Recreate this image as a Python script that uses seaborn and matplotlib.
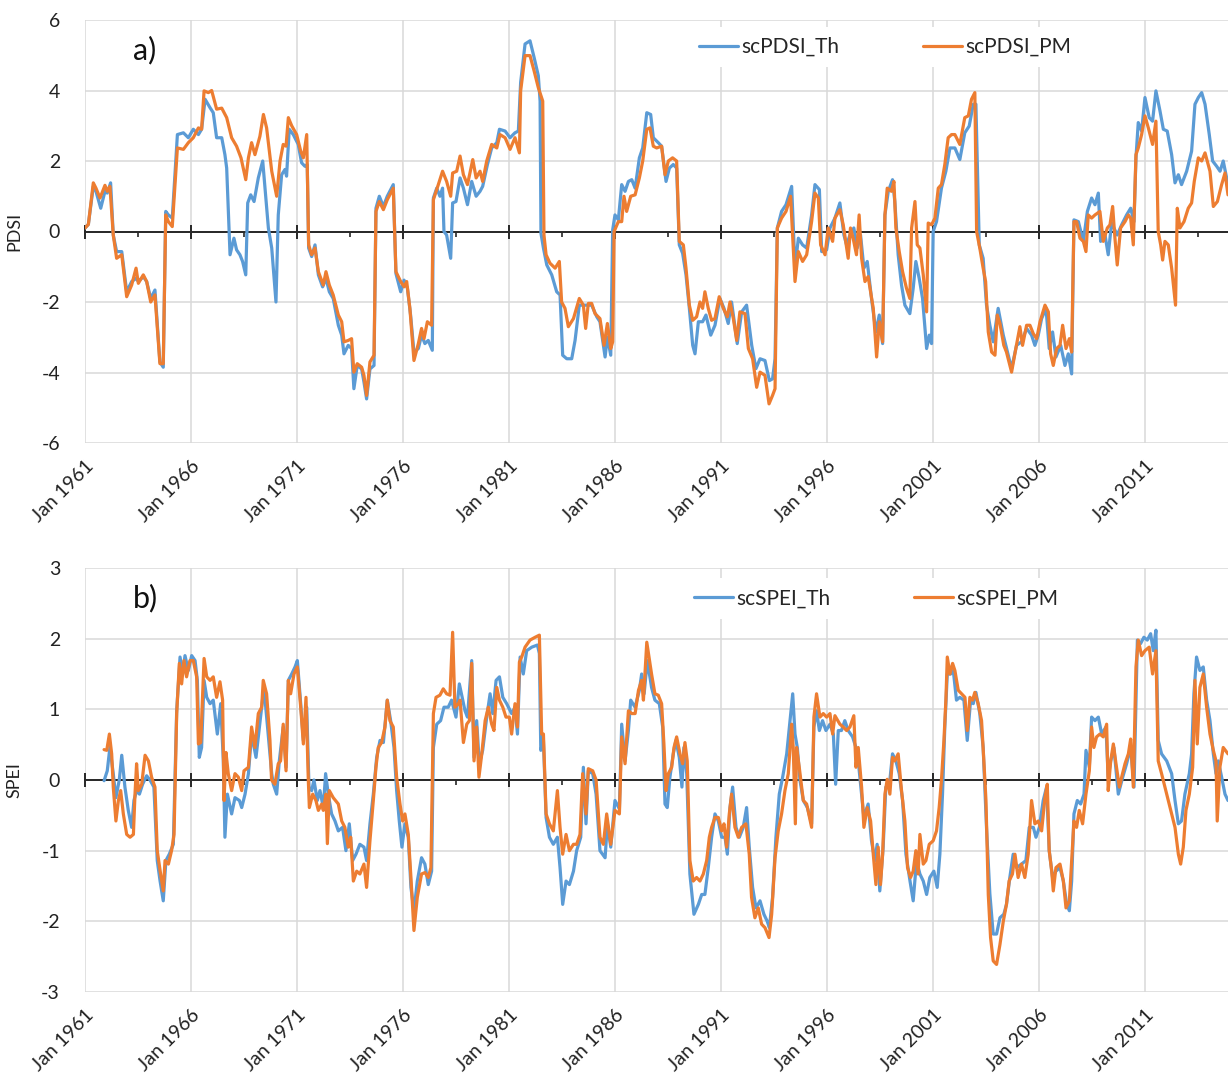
import numpy as np
import pandas as pd
import seaborn as sns
import matplotlib.pyplot as plt

# (months since Jan 1961, index value)
pdsi_th = [
    (0, 0.1), (1.9, 0.2), (4.7, 1.28), (6.2, 1.14), (8.9, 0.66), (11.3, 1.14), (12.6, 1.09), (14.5, 1.38),
    (16, -0.1), (17.9, -0.57), (20.8, -0.57), (23.6, -1.71), (26.4, -1.42), (28.9, -1.33), (30.2, -1.42),
    (33, -1.28), (34.9, -1.42), (37.2, -1.9), (39.6, -1.66), (42.4, -3.7), (44.3, -3.85), (45.7, 0.57),
    (47.2, 0.47), (49.4, 0.38), (52.3, 2.75), (55.7, 2.8), (58.5, 2.66), (61.3, 2.9), (64.2, 2.75), (66, 2.9),
    (68, 3.75), (70.8, 3.51), (72.6, 3.37), (74.5, 2.66), (77.4, 2.66), (79.2, 2.18), (80.2, 1.8),
    (82.1, -0.66), (84.3, -0.19), (85.8, -0.52), (87.7, -0.66), (89.2, -0.85), (91, -1.23), (92.1, 0.81),
    (93.8, 1.04), (95.7, 0.85), (98.1, 1.52), (100.6, 2.0), (101.9, 1.23), (103.8, 0.1), (105.7, -0.47),
    (108.1, -2.0), (109.4, 0.47), (111.3, 1.61), (113.2, 1.76), (114.1, 1.57), (115.6, 2.9), (117.9, 2.75),
    (120.7, 2.47), (122.6, 1.95), (124.5, 1.85), (125.8, 1.9), (126.6, -0.47), (128.3, -0.71), (130.2, -0.38),
    (132.1, -1.23), (134.5, -1.57), (136.4, -1.33), (138.3, -1.71), (140.5, -1.9), (143.4, -2.66),
    (145.3, -2.94), (146.6, -3.47), (149, -3.23), (150.9, -3.32), (152.2, -4.46), (154.1, -3.8), (156.6, -3.9),
    (157.9, -4.27), (159.4, -4.75), (161.3, -3.9), (163.6, -3.8), (164.7, 0.66), (166.6, 1.0), (168.9, 0.71),
    (171.1, 1.0), (174.5, 1.33), (176, -1.19), (178.7, -1.71), (180.6, -1.38), (182.5, -1.61), (184.3, -2.37),
    (186.2, -3.42), (188.7, -3.32), (190.5, -2.94), (192.4, -3.18), (194.3, -3.09), (196.6, -3.37),
    (197.2, 0.95), (199.1, 1.23), (200.9, 1.0), (202.4, 1.23), (203.2, 0.0), (204.7, -0.1), (207, -0.76),
    (208.1, 0.81), (210, 0.85), (212.3, 1.52), (214.2, 1.23), (216.5, 0.76), (218.9, 1.42), (221.4, 1.0),
    (223.6, 1.14), (225.1, 1.28), (227.8, 1.9), (230.2, 2.37), (233.1, 2.52), (234.6, 2.9), (237.8, 2.85),
    (240.6, 2.66), (243.4, 2.8), (245.3, 2.85), (246.6, 4.23), (249.1, 5.32), (251.9, 5.41), (254.2, 4.94),
    (256.6, 4.42), (257.6, 3.7), (258.1, -0.05), (259.5, -0.47), (261.4, -0.95), (264.2, -1.23), (267, -1.71),
    (268.9, -1.8), (270.4, -3.51), (272.7, -3.61), (275.5, -3.61), (277.4, -3.09), (279.8, -2.09),
    (282.1, -2.09), (284.9, -2.09), (286.8, -2.09), (289.7, -2.42), (291.5, -2.56), (294.4, -3.56),
    (295.7, -2.99), (297.6, -3.51), (298.7, 0.05), (300, 0.47), (301.9, 0.33), (303.8, 1.33), (305.7, 1.14),
    (307.6, 1.42), (309.5, 1.47), (311.4, 1.23), (313.8, 2.09), (315.7, 2.37), (318, 3.37), (320.2, 3.32),
    (321.7, 2.66), (324.5, 2.52), (326.4, 2.42), (328.9, 1.42), (330.8, 1.8), (333, 1.9), (334.9, 1.8),
    (336.4, -0.38), (338.3, -0.62), (340.2, -1.23), (342.1, -2.18), (344, -3.23), (345.3, -3.47),
    (347.2, -2.56), (349.6, -2.56), (351.5, -2.37), (354.2, -2.94), (356.6, -2.66), (359.4, -1.9),
    (361.7, -2.18), (364.1, -2.61), (366, -2.0), (369.2, -3.18), (371.7, -2.28), (374.5, -2.09),
    (377.4, -3.23), (379.8, -3.89), (382.1, -3.61), (384.9, -3.66), (387.4, -4.23), (389.2, -4.18),
    (390.6, -3.61), (391.9, 0.1), (394.3, 0.57), (396.8, 0.76), (400, 1.28), (401.9, -1.04), (403.8, -0.19),
    (406.2, -0.38), (408.5, -0.47), (411.3, 0.47), (413.2, 1.33), (415.7, 1.19), (417, -0.57), (419.8, -0.52),
    (421.7, 0.1), (424.5, 0.38), (427.3, 0.81), (429.6, -0.1), (431.1, -0.38), (433, -0.1), (435.2, 0.1),
    (437.1, -0.47), (439, -0.1), (440.9, -1.04), (442.8, -0.85), (445.2, -1.9), (447.7, -2.85), (449.6, -2.37),
    (451.5, -3.18), (452.8, 0.47), (454.7, 1.14), (457.1, 1.47), (458.4, 0.85), (460.3, -0.66), (462.2, -1.52),
    (464.1, -2.09), (466.9, -2.33), (468.8, -1.61), (470.3, -0.85), (472.2, -1.33), (474.1, -1.9),
    (476.4, -3.32), (477.9, -2.94), (479.2, -3.18), (480.1, 0.0), (482, 0.28), (484.8, 1.23), (487.3, 1.71),
    (489.6, 2.37), (492.4, 2.37), (495.2, 2.04), (498, 2.8), (500.5, 2.99), (502.8, 3.61), (504.3, 3.61),
    (506.2, -0.38), (508.4, -0.76), (510.3, -2.09), (512.2, -2.66), (514.1, -3.13), (516.9, -2.18),
    (519.8, -2.94), (522.6, -3.51), (524.5, -3.89), (527.3, -3.23), (530.1, -3.13), (533, -2.75),
    (535.8, -2.94), (537.7, -3.23), (539.6, -2.94), (541.5, -2.47), (544, -2.18), (545.8, -3.32),
    (547.7, -2.85), (549.6, -3.56), (552.3, -3.23), (554.7, -3.8), (556.6, -3.47), (558.5, -4.04),
    (559.8, 0.33), (562.3, 0.28), (565.1, -0.28), (567.4, 0.57), (569.8, 0.95), (571.7, 0.76), (573.6, 1.09),
    (574.9, -0.28), (577.4, -0.1), (579.2, -0.66), (581.1, 0.24), (584.3, -0.1), (586.8, 0.19), (589.6, 0.47),
    (591.9, 0.66), (593.8, 0.28), (594.9, 2.09), (596.2, 3.09), (598.1, 2.85), (600, 3.8), (602.4, 3.23),
    (604.3, 3.13), (606.2, 3.99), (608.5, 3.42), (610.4, 2.9), (612.6, 2.85), (615.1, 2.18), (617, 1.38),
    (618.9, 1.61), (620.7, 1.33), (623.6, 1.71), (626.4, 2.28), (628.3, 3.61), (630.2, 3.8), (632.1, 3.94),
    (634, 3.61), (636.4, 2.75), (638.3, 2.0), (640.6, 1.85), (642.5, 1.71), (644.3, 2.0), (647, 1.33),
]

pdsi_pm = [
    (0, 0.1), (1.9, 0.2), (4.7, 1.38), (6.2, 1.23), (8.5, 0.95), (11.3, 1.31), (12.6, 1.14), (14.1, 1.28),
    (16, -0.1), (17.9, -0.76), (20.8, -0.66), (23.6, -1.85), (26.4, -1.52), (28.9, -1.04), (30.2, -1.47),
    (33, -1.23), (34.9, -1.42), (37.2, -2.0), (39.6, -1.8), (42.4, -3.75), (44.3, -3.75), (45.7, 0.47),
    (47.2, 0.28), (49.4, 0.14), (52.3, 2.37), (55.7, 2.33), (58.5, 2.52), (61.3, 2.66), (64.2, 2.94), (66, 2.9),
    (67.4, 3.99), (69.8, 3.94), (71.7, 4.0), (74.5, 3.47), (77.4, 3.5), (80.2, 3.23), (83, 2.66), (85.8, 2.42),
    (88.3, 2.09), (91, 1.47), (92.5, 2.09), (94.3, 2.52), (96.2, 2.18), (99, 2.7), (101, 3.32), (102.8, 2.94),
    (105.7, 1.71), (108.5, 1.0), (110.4, 2.0), (112.2, 2.47), (113.8, 2.42), (115.1, 3.23), (117, 3.0),
    (119.8, 2.75), (122.1, 2.28), (123.6, 2.09), (125.5, 2.75), (126.6, -0.38), (128.3, -0.66), (130.2, -0.47),
    (132.1, -1.14), (134.9, -1.52), (136.4, -1.14), (138.3, -1.52), (140.5, -1.8), (143.4, -2.37),
    (145.3, -2.56), (146.6, -3.13), (149, -3.09), (150.9, -3.04), (152.2, -3.99), (154.1, -3.75),
    (156.6, -3.85), (157.9, -4.08), (159.4, -4.65), (161.3, -3.7), (163.6, -3.51), (164.7, 0.57), (166.6, 0.85),
    (168.9, 0.62), (171.1, 0.9), (174.5, 1.23), (176, -1.14), (178.7, -1.42), (180.6, -1.57), (182.1, -1.42),
    (183.9, -2.18), (186.2, -3.66), (188.7, -3.18), (190.5, -2.75), (191.9, -3.04), (193.8, -2.56),
    (196.2, -2.66), (197.2, 0.9), (200, 1.33), (202.4, 1.71), (204.7, 1.42), (207, 1.0), (208.1, 1.66),
    (210.4, 1.71), (212.3, 2.14), (214.2, 1.61), (216.5, 1.33), (219.5, 2.04), (221.4, 1.52), (223.6, 1.71),
    (225.1, 1.42), (227.4, 2.0), (230.2, 2.47), (233.1, 2.37), (234.9, 2.75), (237.8, 2.66), (240.6, 2.33),
    (243.4, 2.66), (245.9, 2.23), (246.6, 3.99), (249.1, 4.99), (251.9, 4.99), (254.2, 4.56), (256.6, 4.08),
    (259.1, 3.7), (259.8, -0.1), (261, -0.66), (263.2, -0.9), (266.1, -1.04), (268.5, -0.85), (269.8, -2.0),
    (271.7, -2.18), (273.6, -2.7), (276.5, -2.47), (279.8, -1.9), (282.1, -2.09), (283.4, -2.75),
    (284.9, -2.04), (286.8, -2.04), (288.7, -2.33), (291.5, -2.47), (293.8, -3.23), (295.7, -2.61),
    (297.6, -3.32), (298.7, -3.13), (299.5, 0.0), (301.9, 0.28), (303.8, 0.28), (305.1, 1.0), (306.6, 0.57),
    (308.9, 1.0), (311.4, 1.04), (313.8, 1.52), (315.7, 2.0), (318, 2.9), (319.8, 2.94), (321.7, 2.42),
    (323.6, 2.37), (326.4, 2.42), (328.3, 1.61), (330.2, 2.0), (332.6, 2.09), (334.9, 2.0), (336.4, -0.28),
    (338.7, -0.38), (340.2, -1.04), (342.1, -2.09), (344, -2.52), (346.2, -2.42), (348.1, -2.0),
    (349.6, -2.18), (350.9, -1.71), (352.8, -2.18), (354.7, -2.52), (356.6, -2.47), (359, -1.85),
    (361.3, -2.18), (363.6, -2.42), (365.1, -2.0), (367, -2.47), (368.9, -3.09), (370.7, -2.28),
    (373.6, -2.33), (375.5, -3.32), (377.9, -3.61), (380.2, -4.42), (382.1, -3.99), (384.9, -4.08),
    (387.2, -4.89), (389.2, -4.65), (390.6, -4.46), (391.9, 0.1), (394.3, 0.38), (396.8, 0.57), (399.4, 1.0),
    (401.9, -1.42), (403.8, -0.57), (406.2, -0.85), (408.5, -0.66), (411.3, 0.28), (413.2, 1.09), (415.1, 0.95),
    (416.4, -0.38), (418.9, -0.66), (420.7, 0.1), (423.2, -0.28), (424.5, 0.38), (427.3, 0.62), (429.2, 0.19),
    (430.7, -0.33), (432, -0.76), (433.3, 0.1), (434.8, -0.19), (436.7, -0.66), (438.2, 0.47), (439.6, -0.76),
    (441.5, -1.42), (443.3, -1.28), (446.2, -2.18), (448.1, -3.56), (449.6, -2.56), (451.5, -3.13),
    (452.8, 0.47), (454.1, 1.23), (456.5, 1.14), (457.9, 1.42), (459, 0.1), (460.9, -0.57), (462.8, -1.14),
    (465, -1.61), (466.9, -1.9), (467.9, 0.1), (469.8, 0.85), (471.1, -0.38), (472.6, -0.47), (474.5, -1.23),
    (476.4, -2.28), (477.3, 0.24), (479.2, 0.19), (481.1, 0.38), (483, 1.23), (484.8, 1.33), (486.7, 1.9),
    (488.6, 2.66), (490.5, 2.75), (492.4, 2.75), (495.2, 2.47), (498, 3.23), (500, 3.28), (501.8, 3.75),
    (503.7, 3.94), (504.7, 0.0), (506.5, -0.47), (508.4, -1.04), (509.8, -1.42), (511.3, -2.85),
    (513.2, -3.42), (515.1, -3.51), (516.4, -2.37), (517.9, -2.61), (520.1, -3.23), (521.6, -3.42),
    (524.5, -3.99), (526.9, -3.32), (529.2, -2.7), (530.7, -3.23), (533, -2.66), (534.9, -2.66),
    (536.8, -2.9), (538.7, -3.04), (540.6, -2.56), (543.4, -2.09), (545.3, -2.28), (546.6, -3.47),
    (548.1, -3.8), (550, -3.32), (551.9, -3.23), (553.4, -2.66), (555.3, -3.32), (557.2, -3.04),
    (558.5, -3.42), (559.8, 0.28), (561.3, 0.28), (563.2, -0.19), (565.1, -0.28), (566.6, -0.57),
    (567.9, 0.47), (569.8, 0.38), (571.7, 0.47), (574.5, 0.57), (576.4, -0.28), (578.7, 0.1), (580.2, 0.19),
    (581.7, 0.71), (583, -0.19), (584.3, -0.95), (586.2, 0.1), (588.7, 0.28), (590.6, 0.47), (591.9, 0.38),
    (593.4, -0.38), (594.9, 2.18), (596.2, 2.37), (598.1, 2.75), (600, 3.28), (601.9, 2.94), (604.3, 2.47),
    (606.2, 3.13), (607.5, 0.0), (608.9, -0.38), (610, -0.81), (611.3, -0.28), (613.2, -0.38), (615.1, -1.04),
    (617.3, -2.09), (618.3, 0.66), (619.8, 0.1), (622.1, 0.28), (624.5, 0.66), (626.4, 0.81), (627.9, 1.42),
    (630.2, 2.09), (632.1, 2.0), (634, 2.23), (636.8, 1.71), (638.7, 0.71), (641, 0.85), (643.4, 1.33),
    (645.3, 1.66), (647, 1.04),
]

spei_th = [
    (10.8, -0.01), (12.6, 0.13), (14.1, 0.46), (16, 0.09), (17.5, -0.25), (19.4, 0.0), (20.8, 0.35),
    (22.6, -0.1), (24.5, -0.43), (26.4, -0.67), (27.7, -0.29), (29.2, -0.15), (30.8, -0.2), (32.6, -0.06),
    (34.9, 0.06), (36.8, 0.0), (39, -0.1), (40.9, -1.14), (42.5, -1.43), (44.3, -1.71), (45.8, -1.14),
    (47.7, -1.05), (50, -0.91), (51.9, 0.98), (53.8, 1.74), (55.3, 1.5), (56.6, 1.76), (58.5, 1.55),
    (60.4, 1.76), (62.3, 1.69), (63.6, 1.41), (64.7, 0.32), (66, 0.46), (67.4, 1.41), (68.9, 1.17),
    (70.8, 1.08), (72.6, 1.13), (74.9, 0.65), (76.8, 1.08), (78.3, 0.27), (79.2, -0.81), (80.6, -0.2),
    (83, -0.48), (84.9, -0.25), (87.4, -0.29), (88.7, -0.39), (90.6, -0.2), (92.5, 0.09), (94.3, 0.65),
    (96.8, 0.32), (98.7, 0.75), (100, 1.03), (101.3, 1.31), (103.8, 0.61), (105.7, 0.09), (106.6, -0.06),
    (108.5, -0.2), (110, 0.27), (112.2, 0.75), (113.8, 0.18), (115.1, 1.41), (117, 1.5), (118.9, 1.6),
    (120.2, 1.69), (122.1, 1.08), (123.6, 0.56), (125.5, 1.03), (126.8, -0.1), (128.3, -0.15), (129.6, 0.0),
    (131.5, -0.29), (133, -0.15), (134.9, -0.39), (136.2, 0.09), (137.7, -0.2), (139.6, -0.48), (141.5, -0.58),
    (143.4, -0.72), (145.8, -0.67), (147.7, -1.0), (149.6, -0.62), (151.5, -1.14), (153.4, -1.05),
    (155.6, -0.91), (157.9, -0.95), (159.4, -1.14), (161.3, -0.62), (163.2, -0.2), (165.1, 0.32), (167, 0.56),
    (168.9, 0.53), (171.1, 1.13), (173, 0.84), (174.9, 0.46), (176.4, -0.15), (177.9, -0.58), (179.4, -0.95),
    (181.1, -0.62), (183, -0.81), (184.5, -1.52), (186.2, -1.86), (188.1, -1.43), (190.5, -1.1), (192.4, -1.19),
    (194.3, -1.48), (196.2, -1.29), (197.2, 0.46), (199.1, 0.79), (201.3, 0.84), (203.2, 1.03), (205.6, 1.03),
    (207.5, 1.13), (210, 0.89), (211.9, 1.36), (215.1, 0.98), (216.5, 0.89), (218.9, 1.69), (220.2, 0.32),
    (221.7, 0.84), (223.2, 0.23), (225.1, 0.42), (227.4, 0.89), (229.3, 1.22), (230.8, 0.94), (232.7, 1.41),
    (234.6, 1.46), (236.5, 1.17), (238.7, 1.08), (241.5, 0.94), (243.4, 1.03), (244.8, 0.65), (246.3, 1.74),
    (248.1, 1.5), (250, 1.83), (252.9, 1.88), (256.1, 1.91), (257.2, 1.79), (258, 0.42), (259.5, 0.56),
    (261, -0.53), (262.9, -0.81), (265.1, -0.91), (267.4, -0.81), (268.9, -1.24), (270.4, -1.76),
    (272.3, -1.43), (274.2, -1.48), (276.5, -1.29), (278.3, -1.0), (280.6, -0.81), (282.1, 0.18),
    (283.6, -0.62), (284.9, 0.13), (287.4, 0.09), (289.3, -0.2), (291.5, -1.0), (294.4, -1.1), (295.7, -0.62),
    (297.6, -0.95), (300, -0.29), (302.5, -0.41), (303.8, 0.79), (305.7, 0.27), (307.6, 0.7), (308.9, 1.13),
    (311.4, 1.03), (313.8, 1.27), (315.1, 1.5), (316.5, 1.22), (318.3, 1.69), (320.7, 1.31), (322.6, 1.13),
    (325.1, 1.08), (327, 0.75), (328.3, -0.34), (329.6, -0.39), (331.1, 0.04), (333, 0.37), (334.5, 0.56),
    (336.4, 0.32), (337.9, -0.1), (339, 0.46), (340.6, 0.09), (342.4, -1.33), (344.7, -1.9), (347.2, -1.76),
    (349.1, -1.62), (350.9, -1.62), (352.8, -1.24), (354.7, -0.81), (356.6, -0.48), (358.5, -0.58),
    (360.4, -0.81), (362.3, -0.81), (363.6, -1.05), (365.1, -0.39), (366.6, -0.1), (368.5, -0.67),
    (370.4, -0.81), (372.6, -0.67), (374.5, -0.39), (376, -0.95), (377.9, -1.52), (379.8, -1.81),
    (382.1, -1.71), (384.3, -1.9), (386.2, -2.0), (387.4, -2.09), (389.2, -1.66), (391.1, -0.81), (393, -0.2),
    (394.9, 0.04), (397.2, 0.37), (399.1, 0.84), (400.6, 1.22), (401.9, 0.65), (403.2, 0.46), (404.7, 0.0),
    (406.6, -0.29), (408.9, -0.39), (411.3, -0.62), (412.6, 0.75), (414.1, 0.98), (415.7, 0.7), (417.5, 0.84),
    (419.4, 0.7), (421.7, 0.79), (423.6, 0.65), (424.9, -0.06), (426.4, 0.7), (428.2, 0.7), (430.1, 0.84),
    (432, 0.7), (434.5, 0.61), (436.4, 0.46), (437.7, 0.27), (439.6, -0.2), (440.9, -0.53), (443.3, -0.34),
    (445.2, -0.86), (447.1, -1.14), (448.4, -0.91), (449.9, -1.57), (451.8, -0.95), (453.3, -0.1),
    (455.2, -0.1), (457.1, 0.37), (459, 0.27), (460.9, 0.09), (462.8, -0.29), (464.7, -1.05), (467, -1.43),
    (468.8, -1.71), (470.7, -1.14), (472.6, -1.33), (474.5, -1.43), (476.4, -1.62), (478.2, -1.38),
    (480.5, -1.29), (482.4, -1.52), (483.9, -1.05), (485.4, -0.2), (486.7, 0.75), (488.1, 1.5), (490, 1.5),
    (491.5, 1.55), (493.3, 1.13), (495.2, 1.17), (497.5, 1.13), (499.4, 0.56), (501.3, 1.13), (502.8, 1.08),
    (504.3, 1.24), (506.5, 0.94), (508.4, 0.46), (510.3, -0.67), (512.2, -1.61), (514.1, -2.18), (516, -2.18),
    (517.9, -1.95), (520.1, -1.9), (521.6, -1.76), (523.5, -1.38), (525.4, -1.05), (527.3, -1.24),
    (530.1, -1.19), (532.6, -1.14), (534.5, -0.67), (536.8, -0.67), (538.3, -0.81), (540.2, -0.67),
    (542.4, -0.29), (544.3, -0.1), (545.8, -1.0), (547.7, -1.38), (549.6, -1.29), (551.9, -1.24),
    (553.8, -1.43), (555.7, -1.76), (557.2, -1.85), (558.5, -1.43), (559.8, -0.48), (561.7, -0.29),
    (563.6, -0.34), (565.5, -0.2), (566.6, 0.42), (568.5, 0.18), (569.8, 0.89), (571.7, 0.84), (573.6, 0.89),
    (575.5, 0.65), (577.9, 0.75), (579.2, 0.04), (580.6, 0.27), (582.4, 0.46), (584.9, -0.2), (587.4, 0.04),
    (589.6, 0.23), (591.9, 0.46), (593.8, -0.1), (595.7, 1.98), (597.5, 1.93), (599.4, 2.02), (601.3, 1.98),
    (603.2, 2.07), (604.7, 1.83), (606.2, 2.12), (607.5, 0.56), (609.4, 0.37), (612.3, 0.27), (615.1, 0.09),
    (617, -0.29), (618.9, -0.62), (620.7, -0.58), (622.6, -0.2), (625.1, 0.09), (626.4, 0.37), (627.7, 1.22),
    (629.2, 1.74), (631.1, 1.55), (633, 1.6), (634.9, 1.13), (636.8, 0.84), (638.7, 0.37), (640.2, 0.09),
    (641.5, 0.27), (643.4, 0.04), (645.3, -0.2), (647, -0.29),
]

spei_pm = [
    (10.8, 0.43), (12.3, 0.42), (13.8, 0.65), (15.1, 0.37), (16, -0.1), (17.5, -0.58), (18.9, -0.29),
    (20.2, -0.15), (21.7, -0.48), (23.6, -0.77), (25.5, -0.81), (27.4, -0.77), (28.3, -0.2), (29.2, 0.23),
    (30.2, -0.15), (32.1, -0.06), (34, 0.35), (35.9, 0.27), (37.7, 0.04), (39.6, -0.1), (40.9, -1.0),
    (42.5, -1.28), (44.3, -1.57), (45.3, -1.14), (47.2, -1.19), (49, -1.0), (50.4, -0.77), (51.9, 0.94),
    (53.4, 1.65), (54.7, 1.36), (56, 1.69), (57.5, 1.46), (59.4, 1.69), (61.3, 1.69), (63.2, 1.46),
    (64.2, 0.51), (65.5, 0.53), (67.4, 1.72), (68.9, 1.46), (70.8, 1.41), (72.6, 1.46), (74.5, 1.17),
    (76.4, 1.39), (77.9, 1.13), (78.7, -0.29), (79.8, 0.39), (81.1, 0.09), (83, -0.15), (84.9, 0.09),
    (86.8, 0.04), (88.7, -0.15), (90, 0.13), (92.5, 0.18), (94.3, 0.75), (96.2, 0.46), (98.1, 0.94),
    (100, 1.03), (100.9, 1.41), (102.8, 1.22), (104.7, 0.56), (105.6, 0.0), (107.5, -0.06), (109.4, 0.23),
    (110.7, 0.27), (112.2, 0.79), (113.8, 0.13), (115.1, 1.41), (116.4, 1.22), (118.3, 1.5), (120.2, 1.6),
    (122.1, 1.03), (123.6, 0.51), (125.1, 1.17), (126.4, 0.0), (127, -0.39), (128.9, -0.2), (130.7, -0.29),
    (132.1, -0.43), (134, -0.34), (134.9, -0.43), (136.4, -0.2), (137.2, -0.9), (138.3, -0.15),
    (140.5, -0.25), (143.4, -0.34), (145.3, -0.58), (147.1, -0.67), (149, -0.95), (150.4, -0.81),
    (151.9, -1.43), (153.8, -1.29), (155.6, -1.33), (157.9, -1.19), (159.4, -1.52), (161.3, -0.86),
    (163.2, -0.29), (164.7, 0.18), (166, 0.46), (167.9, 0.53), (169.8, 0.75), (171.1, 1.13), (172.6, 0.84),
    (174.5, 0.75), (176.4, 0.04), (178.3, -0.34), (179.8, -0.58), (181.1, -0.48), (183, -0.77), (184.5, -1.38),
    (186.2, -2.13), (188.1, -1.66), (190.5, -1.33), (192.4, -1.31), (194.3, -1.38), (195.8, -1.24),
    (197.2, 0.94), (198.7, 1.17), (200.9, 1.2), (202.8, 1.29), (204.7, 1.22), (206.6, 1.2), (208.1, 2.09),
    (209.4, 1.03), (211.3, 1.08), (212.3, 1.13), (214.2, 0.53), (216.1, 0.79), (217.6, 0.84), (218.9, 1.65),
    (220.2, 0.27), (221.7, 0.75), (223, 0.04), (224.6, 0.37), (226.5, 0.84), (228.3, 1.03), (230.2, 0.79),
    (231.5, 0.7), (233.1, 1.31), (234.6, 1.13), (236.5, 1.03), (238.3, 0.89), (240.2, 0.89), (241.5, 0.65),
    (243.4, 1.08), (244.8, 0.75), (245.9, 1.67), (247.2, 1.74), (249.1, 1.88), (251.9, 1.98), (254.8, 2.02),
    (257.2, 2.05), (258.5, 0.65), (259.5, 0.65), (261, -0.48), (262.9, -0.62), (265.1, -0.72), (267.4, -0.15),
    (268.9, -0.67), (270.4, -1.05), (272.3, -0.77), (274.2, -1.0), (276.5, -0.91), (278.3, -0.91),
    (280.2, -0.77), (281.7, 0.09), (283.6, -0.48), (284.9, 0.16), (287.4, 0.13), (289.3, 0.0), (291.5, -0.81),
    (293.4, -0.91), (295.3, -0.48), (297.6, -0.91), (300, -0.43), (302.5, -0.48), (303.8, 0.61), (305.7, 0.23),
    (307.6, 0.98), (309.5, 0.94), (311.4, 0.94), (313.3, 1.27), (315.1, 1.41), (316.1, 1.13), (318, 1.95),
    (320.7, 1.5), (322.6, 1.22), (324.5, 1.2), (326.4, 1.08), (327.7, 0.51), (328.9, -0.15), (330.2, 0.09),
    (332.1, 0.18), (333.4, 0.46), (334.9, 0.61), (336.8, 0.37), (338.3, 0.23), (339.6, 0.53), (340.9, 0.27),
    (342.4, -1.14), (344.3, -1.43), (346.2, -1.38), (348.1, -1.43), (350, -1.33), (351.9, -1.14),
    (353.4, -0.81), (354.7, -0.67), (356.6, -0.53), (358.5, -0.53), (360.4, -0.72), (361.7, -0.62),
    (363.2, -0.95), (364.7, -0.48), (366, -0.2), (367.9, -0.67), (369.8, -0.81), (371.7, -0.67),
    (374.1, -0.62), (376, -1.05), (377.3, -1.66), (379.2, -1.95), (381.1, -1.81), (383, -2.04),
    (384.9, -2.09), (387.2, -2.23), (388.7, -1.9), (390.6, -1.1), (392.4, -0.72), (394.3, -0.48),
    (396.2, -0.15), (398.1, 0.09), (400, 0.79), (400.9, 0.46), (402.1, -0.62), (402.8, 0.46), (404.3, 0.18),
    (406.6, -0.29), (408.5, -0.34), (411.3, -0.67), (412.6, 0.89), (414.1, 1.22), (416, 0.89), (417.9, 0.94),
    (419.8, 0.89), (421.7, 0.94), (423.2, 0.65), (424.5, 0.91), (427.3, 0.79), (429.2, 0.75), (431.1, 0.7),
    (433, 0.75), (435.2, 0.91), (436.4, 0.18), (437.7, 0.46), (439.6, -0.1), (440.9, -0.67), (442.8, -0.39),
    (444.7, -0.58), (446.2, -1.05), (447.7, -1.48), (449, -0.95), (450.3, -1.48), (451.5, -1.05),
    (452.8, -0.2), (454.1, 0.01), (455.6, -0.2), (457.1, 0.32), (458.4, 0.27), (460.3, 0.37), (462.2, -0.15),
    (464.1, -0.58), (465.6, -1.24), (467.3, -1.38), (468.8, -1.29), (470.3, -1.0), (471.6, -1.33),
    (472.6, -0.77), (474.5, -1.19), (476, -1.14), (477.9, -0.91), (480.1, -0.86), (482, -0.72), (483.5, -0.39),
    (484.8, 0.0), (486.2, 0.56), (487.3, 1.13), (488.1, 1.74), (489.6, 1.5), (491.1, 1.65), (492.4, 1.55),
    (494.3, 1.27), (496.2, 1.22), (498.1, 1.17), (499.4, 0.7), (500.9, 1.17), (502.4, 1.13), (503.7, 1.24),
    (505.6, 1.08), (507.5, 0.84), (508.8, 0.27), (510, -0.29), (511.3, -1.62), (512.6, -2.23), (514.1, -2.56),
    (516, -2.61), (517.9, -2.33), (519.8, -2.0), (521.6, -1.76), (523.1, -1.43), (525, -1.33), (526.4, -1.05),
    (528.2, -1.38), (530.1, -1.19), (532, -1.38), (533.9, -1.05), (535.8, -0.29), (537.7, -0.62),
    (539.6, -0.58), (541.5, -0.72), (543.4, -0.25), (544.7, -0.06), (545.8, -1.0), (547.2, -1.29),
    (548.1, -1.57), (549.6, -1.24), (551.9, -1.19), (553.8, -1.43), (555.3, -1.81), (557.2, -1.71),
    (558.5, -1.14), (559.8, -0.58), (561.3, -0.67), (562.8, -0.43), (564.7, -0.62), (566.6, -0.2),
    (568.5, 0.13), (569.8, 0.75), (571.1, 0.46), (572.6, 0.61), (574.5, 0.65), (576.4, 0.61), (578.3, 0.79),
    (579.2, -0.15), (580.6, 0.27), (582.1, 0.51), (583.6, 0.23), (585.5, -0.1), (586.8, 0.04), (588.7, 0.23),
    (590.6, 0.37), (591.9, 0.58), (593.4, -0.1), (594.9, 1.6), (596.2, 1.98), (598.1, 1.76), (600, 1.83),
    (602.4, 1.88), (604.3, 1.5), (606.2, 1.83), (607.5, 0.27), (609.4, 0.09), (611.3, -0.1), (613.2, -0.29),
    (615.1, -0.48), (617, -0.67), (618.9, -1.05), (620.2, -1.19), (621.7, -0.95), (623.2, -0.43),
    (625.1, -0.2), (627, 0.18), (628.3, 1.41), (629.6, 0.51), (631.1, 1.31), (633, 1.5), (634.9, 1.03),
    (636.8, 0.65), (638.7, 0.42), (640.2, 0.27), (640.9, -0.58), (642.4, 0.18), (644.3, 0.46), (647, 0.37),
]

tick_years = [1961, 1966, 1971, 1976, 1981, 1986, 1991, 1996, 2001, 2006, 2011]
tick_labels = ["Jan %d" % y for y in tick_years]
colors = ["#5B9BD5", "#ED7D31"]


def make_df(series):
    parts = []
    for name, pairs in series.items():
        a = np.array(pairs)
        parts.append(pd.DataFrame({"month": a[:, 0], "value": a[:, 1], "series": name}))
    return pd.concat(parts, ignore_index=True)


sns.set_theme(style="white")
plt.rcParams["font.family"] = ["Lato", "DejaVu Sans"]
plt.rcParams["axes.unicode_minus"] = False

fig = plt.figure(figsize=(12.28, 10.78), dpi=100)
ax1 = fig.add_axes([85 / 1228, 1 - 443 / 1078, 1 - 85 / 1228, 423 / 1078])
ax2 = fig.add_axes([85 / 1228, 1 - 992 / 1078, 1 - 85 / 1228, 424 / 1078])

panels = [
    (ax1, {"scPDSI_Th": pdsi_th, "scPDSI_PM": pdsi_pm}, (-6, 6), 2, "PDSI", "a)", (0.70, 0.936)),
    (ax2, {"scSPEI_Th": spei_th, "scSPEI_PM": spei_pm}, (-3, 3), 1, "SPEI", "b)", (0.692, 0.928)),
]

major = [12 * (y - 1961) for y in tick_years]
minor = [m + 30 for m in major]

for ax, series, ylim, step, ylabel, tag, anchor in panels:
    df = make_df(series)
    names = list(series.keys())
    sns.lineplot(data=df, x="month", y="value", hue="series", hue_order=names,
                 palette=colors, estimator=None, linewidth=2.3, ax=ax, legend=False)
    ax.set_xlim(0, 647)
    ax.set_ylim(*ylim)
    ax.set_yticks(np.arange(ylim[0], ylim[1] + step, step))
    ax.set_xticks(major)
    ax.set_xticks(minor, minor=True)
    ax.grid(True, which="major", color="#d9d9d9", linewidth=1.1)
    ax.set_axisbelow(True)
    for s in ["top", "right", "left"]:
        ax.spines[s].set_visible(False)
    ax.spines["bottom"].set_position(("data", 0))
    ax.spines["bottom"].set_color("#262626")
    ax.spines["bottom"].set_linewidth(1.4)
    ax.spines["bottom"].set_zorder(1.5)
    ax.tick_params(axis="x", which="major", direction="inout", length=10, width=1.4,
                   color="#262626", labelbottom=False, bottom=True)
    ax.tick_params(axis="x", which="minor", direction="out", length=3.5, width=1.2,
                   color="#262626", bottom=True)
    ax.tick_params(axis="y", length=0, pad=18, labelsize=14, labelcolor="#222222")
    ax.set_xlabel("")
    ax.set_ylabel(ylabel, fontsize=13, color="#222222")
    ax.yaxis.set_label_coords(-0.055, 0.5)

    sec = ax.secondary_xaxis("bottom")
    sec.set_xticks(major, labels=tick_labels)
    sec.tick_params(length=0, pad=10, labelsize=14, labelcolor="#222222")
    sec.spines["bottom"].set_visible(False)
    for lbl in sec.get_xticklabels():
        lbl.set_rotation(45)
        lbl.set_ha("right")
        lbl.set_va("top")
        lbl.set_rotation_mode("anchor")

    ax.text(0.0525, 0.929, tag, transform=ax.transAxes, fontsize=22,
            ha="center", va="center", color="#111111")
    ax.legend(handles=ax.lines[:2], labels=names, loc="center",
              bbox_to_anchor=anchor, ncol=2, frameon=True, fontsize=15,
              handlelength=1.9, handletextpad=0.15, columnspacing=4.0,
              borderpad=0.5, facecolor="white", edgecolor="none", framealpha=1)

plt.savefig("out.png", dpi=100)
